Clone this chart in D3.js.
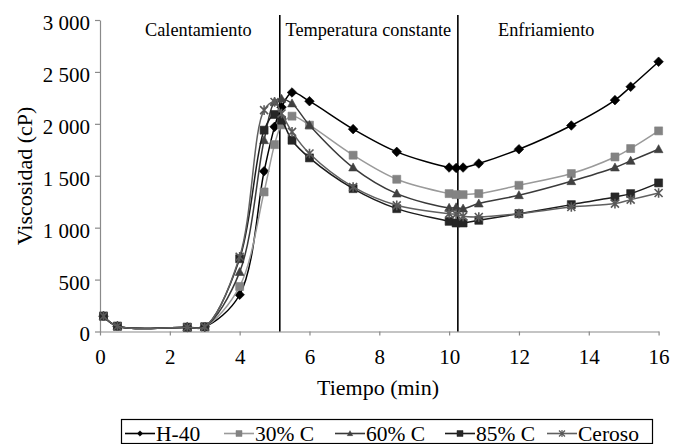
<!DOCTYPE html>
<html><head><meta charset="utf-8">
<script src="https://cdn.jsdelivr.net/npm/d3@7"></script>
<style>
html,body{margin:0;padding:0;background:#fff;}
svg{display:block;}
svg text{font-family:"Liberation Serif","Times New Roman",serif !important;}
</style></head>
<body><svg id="c" width="680" height="444"></svg>
<script>
// ---- data ----
const seriesNames = ["H-40", "30% C", "60% C", "85% C", "Ceroso"];
const timeMin = [0.1, 0.5, 2.5, 3.0, 4.0, 4.7, 5.0, 5.2, 5.5, 6.0, 7.25, 8.5, 10.0, 10.2, 10.4, 10.85, 12.0, 13.5, 14.75, 15.2, 16.0];
const h40    = [148, 51, 41, 45, 354, 1543, 1971, 2160, 2302, 2218, 1949, 1730, 1579, 1575, 1579, 1618, 1755, 1984, 2228, 2357, 2598];
const c30    = [148, 51, 41, 45, 434, 1344, 1800, 1990, 2074, 1987, 1698, 1466, 1328, 1318, 1318, 1328, 1408, 1521, 1681, 1762, 1932];
const c60    = [148, 51, 41, 45, 572, 1842, 2212, 2240, 2196, 1987, 1579, 1328, 1190, 1195, 1183, 1232, 1312, 1447, 1579, 1643, 1755];
const c85    = [148, 51, 41, 45, 701, 1939, 2090, 2035, 1842, 1672, 1376, 1183, 1061, 1045, 1045, 1071, 1135, 1222, 1296, 1328, 1431];
const ceroso = [148, 51, 41, 45, 720, 2132, 2210, 2100, 1923, 1714, 1392, 1215, 1135, 1130, 1109, 1103, 1135, 1199, 1232, 1270, 1334];
const seriesValues = [h40, c30, c60, c85, ceroso];
const xTicks = [0, 2, 4, 6, 8, 10, 12, 14, 16];
const yTicks = [0, 500, 1000, 1500, 2000, 2500, 3000];
const yTickLabels = ["0", "500", "1 000", "1 500", "2 000", "2 500", "3 000"];
const phaseBoundaries = [5.15, 10.25];
const phaseLabels = ["Calentamiento", "Temperatura constante", "Enfriamiento"];
const xTitle = "Tiempo (min)";
const yTitle = "Viscosidad (cP)";

// ---- styles ----
const FONT = "'Liberation Serif','Times New Roman',serif";
const lineColors   = ["#000000", "#9a9a9a", "#3a3a3a", "#1c1c1c", "#606060"];
const markerColors = ["#000000", "#838383", "#404040", "#262626", "#595959"];
const markerShapes = ["diamond", "square", "triangle", "square", "star"];

const svg = d3.select("#c");
const x = d3.scaleLinear().domain([0, 16]).range([100, 658.6]);
const y = d3.scaleLinear().domain([0, 3000]).range([331.5, 20]);
const axisColor = "#8a8a8a";

// axes
const gx = svg.append("g").attr("transform", `translate(0,${y(0)})`)
  .call(d3.axisBottom(x).tickValues(xTicks).tickSize(4).tickSizeOuter(0).tickPadding(14).tickFormat(d3.format("d")));
const gy = svg.append("g").attr("transform", `translate(${x(0)},0)`)
  .call(d3.axisLeft(y).tickValues(yTicks).tickSize(5).tickSizeOuter(0).tickPadding(5).tickFormat(d => yTickLabels[yTicks.indexOf(d)]));
[gx, gy].forEach(g => {
  g.attr("font-family", FONT).attr("font-size", 21);
  g.select(".domain").attr("stroke", axisColor).attr("stroke-width", 1.2);
  g.selectAll(".tick line").attr("stroke", axisColor).attr("stroke-width", 1.2);
  g.selectAll(".tick text").attr("fill", "#000").style("font-family", FONT).style("font-size", "21px");
});
gy.selectAll(".tick text").attr("dy", "0.45em");
gx.selectAll(".tick text").attr("dy", "0.71em");

// titles
svg.append("text").attr("x", 378).attr("y", 395).attr("text-anchor", "middle")
  .style("font-family", FONT).style("font-size", "22px").text(xTitle);
svg.append("text").attr("transform", "translate(32,176) rotate(-90)").attr("text-anchor", "middle")
  .style("font-family", FONT).style("font-size", "22px").text(yTitle);

// phase boundaries
svg.selectAll("line.phase").data(phaseBoundaries).join("line").attr("class", "phase")
  .attr("x1", d => x(d)).attr("x2", d => x(d)).attr("y1", 15).attr("y2", y(0))
  .attr("stroke", "#000").attr("stroke-width", 1.6);
const phaseLabelX = [145, 285.5, 498];
svg.selectAll("text.phase").data(phaseLabels).join("text").attr("class", "phase")
  .attr("x", (d, i) => phaseLabelX[i]).attr("y", 36)
  .style("font-family", FONT).style("font-size", "18.3px").text(d => d);

// marker generator
function markerPath(shape, s) {
  const h = s / 2;
  switch (shape) {
    case "diamond": return `M0,${-h*1.2}L${h*1.2},0L0,${h*1.2}L${-h*1.2},0Z`;
    case "square": return `M${-h},${-h}H${h}V${h}H${-h}Z`;
    case "triangle": return `M0,${-h*1.15}L${h*1.1},${h*0.85}L${-h*1.1},${h*0.85}Z`;
    case "star": return `M${-h},${-h}L${h},${h}M${-h},${h}L${h},${-h}M0,${-h*1.2}V${h*1.2}`;
  }
}

const line = d3.line().x(d => x(d[0])).y(d => y(d[1])).curve(d3.curveCatmullRom.alpha(0.5));

seriesNames.forEach((name, si) => {
  const pts = timeMin.map((t, i) => [t, seriesValues[si][i]]);
  const g = svg.append("g");
  g.append("path").attr("d", line(pts)).attr("fill", "none")
    .attr("stroke", lineColors[si]).attr("stroke-width", 1.5);
  g.selectAll("path.m").data(pts).join("path").attr("class", "m")
    .attr("transform", d => `translate(${x(d[0])},${y(d[1])})`)
    .attr("d", markerPath(markerShapes[si], 8))
    .attr("fill", markerShapes[si] === "star" ? "none" : markerColors[si])
    .attr("stroke", markerColors[si])
    .attr("stroke-width", markerShapes[si] === "star" ? 1.6 : 0.6);
});

// legend
const lg = svg.append("g");
lg.append("rect").attr("x", 121.5).attr("y", 419.5).attr("width", 531).attr("height", 24)
  .attr("fill", "#fff").attr("stroke", "#000").attr("stroke-width", 1.2);
const legendX = [125, 224, 335, 445, 547];
seriesNames.forEach((name, si) => {
  const lx = legendX[si], ly = 433.5;
  lg.append("line").attr("x1", lx).attr("x2", lx + 30).attr("y1", ly).attr("y2", ly)
    .attr("stroke", lineColors[si]).attr("stroke-width", 1.6);
  lg.append("path").attr("transform", `translate(${lx + 15},${ly})`)
    .attr("d", markerPath(markerShapes[si], si === 0 ? 4.5 : (si === 2 ? 5 : 6)))
    .attr("fill", markerShapes[si] === "star" ? "none" : markerColors[si])
    .attr("stroke", markerColors[si]).attr("stroke-width", markerShapes[si] === "star" ? 1.2 : 0.5);
  lg.append("text").attr("x", lx + 31).attr("y", 440.5)
    .style("font-family", FONT).style("font-size", "21.5px").text(name);
});
</script></body></html>
